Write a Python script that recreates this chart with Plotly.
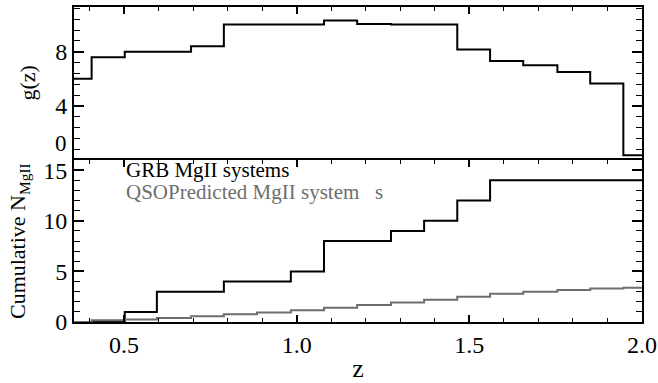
import plotly.graph_objects as go

# bin edges in redshift (common grid)
z_edges = [0.355, 0.406, 0.502, 0.595, 0.694, 0.789, 0.885, 0.983, 1.079, 1.175,
           1.273, 1.369, 1.465, 1.56, 1.656, 1.755, 1.85, 1.946, 2.0]
# g(z) per bin
g_vals = [6.0, 7.6, 8.0, 8.0, 8.4, 10.0, 10.0, 10.0, 10.3, 10.05,
          10.0, 10.0, 8.17, 7.31, 7.0, 6.5, 5.65, 0.35]
# cumulative GRB MgII systems per bin
grb_cum = [0, 0, 1, 3, 3, 4, 4, 5, 8, 8, 9, 10, 12, 14, 14, 14, 14, 14]
# cumulative QSO-predicted MgII systems per bin
qso_cum = [0.0, 0.17, 0.24, 0.40, 0.56, 0.76, 0.95, 1.16, 1.40, 1.67,
           1.93, 2.20, 2.50, 2.79, 2.99, 3.15, 3.32, 3.39]
g_ticks = [4, 8]

def step(vals):
    return list(vals) + [vals[-1]]

FONT = "Liberation Serif"
fig = go.Figure()
fig.add_trace(go.Scatter(x=z_edges, y=step(g_vals), mode="lines", line_shape="hv",
                         line=dict(color="black", width=2), xaxis="x", yaxis="y"))
fig.add_trace(go.Scatter(x=z_edges, y=step(grb_cum), mode="lines", line_shape="hv",
                         line=dict(color="black", width=2), xaxis="x2", yaxis="y2"))
fig.add_trace(go.Scatter(x=z_edges, y=step(qso_cum), mode="lines", line_shape="hv",
                         line=dict(color="#6e6e6e", width=2), xaxis="x2", yaxis="y2"))

xcommon = dict(range=[0.355, 2.0], showgrid=False, zeroline=False, showline=True,
               linecolor="black", linewidth=2, ticks="inside", automargin=False,
               ticklen=7, tickwidth=1.5, tickcolor="black", dtick=0.5, tick0=0,
               minor=dict(ticks="inside", dtick=0.1, ticklen=4, tickcolor="black", tickwidth=1.2),
               tickfont=dict(family=FONT, size=24, color="black"))
ycommon = dict(showgrid=False, zeroline=False, showline=True, linecolor="black",
               linewidth=2, mirror="allticks", ticks="inside", ticklen=10, tickwidth=1.5,
               tickcolor="black", automargin=False,
               tickfont=dict(family=FONT, size=24, color="black"))

TOP_DOM = [0.514, 1]
BOT_DOM = [0, 0.514]

fig.update_layout(
    width=658, height=383, margin=dict(l=74, r=16, t=7, b=61),
    paper_bgcolor="white", plot_bgcolor="white", showlegend=False,
    xaxis=dict(xcommon, anchor="y", side="top", mirror=False, showticklabels=False, matches="x2"),
    yaxis=dict(ycommon, domain=TOP_DOM, range=[0, 11.3], tickvals=g_ticks,
               minor=dict(ticks="inside", tickvals=[0.8 * i for i in range(15)], ticklen=6,
                          tickcolor="black", tickwidth=1.2)),
    xaxis2=dict(xcommon, anchor="y2", mirror="allticks", tickformat=".1f",
                title=dict(text="z", font=dict(family=FONT, size=26, color="black"), standoff=7)),
    yaxis2=dict(ycommon, domain=BOT_DOM, range=[0, 16], dtick=5, tick0=0,
                minor=dict(ticks="inside", dtick=1, ticklen=6, tickcolor="black", tickwidth=1.2)),
)

# y-axis titles
fig.add_annotation(x=0, y=sum(TOP_DOM) / 2, xref="paper", yref="paper", xanchor="center",
                   yanchor="middle", xshift=-46, textangle=-90, text="g(z)", showarrow=False,
                   font=dict(family=FONT, size=22, color="black"))
fig.add_annotation(x=0, y=sum(BOT_DOM) / 2, xref="paper", yref="paper", xanchor="center",
                   yanchor="middle", xshift=-55, textangle=-90, text="Cumulative N<sub>MgII</sub>",
                   showarrow=False, font=dict(family=FONT, size=22, color="black"))

# top-panel "0" label sits slightly above the shared boundary
fig.add_annotation(x=0, y=1.25, xref="paper", yref="y", xanchor="right", yanchor="middle",
                   xshift=-5, text="0", showarrow=False,
                   font=dict(family=FONT, size=23, color="black"))

fig.add_annotation(x=0.5, y=15.0, xref="x2", yref="y2", xanchor="left", yanchor="middle",
                   text="GRB MgII systems", showarrow=False,
                   font=dict(family=FONT, size=21, color="black"))
fig.add_annotation(x=0.5, y=12.8, xref="x2", yref="y2", xanchor="left", yanchor="middle",
                   text="QSOPredicted MgII system\u00a0\u00a0 s", showarrow=False,
                   font=dict(family=FONT, size=21, color="#6e6e6e"))

fig.write_html("out.html")
